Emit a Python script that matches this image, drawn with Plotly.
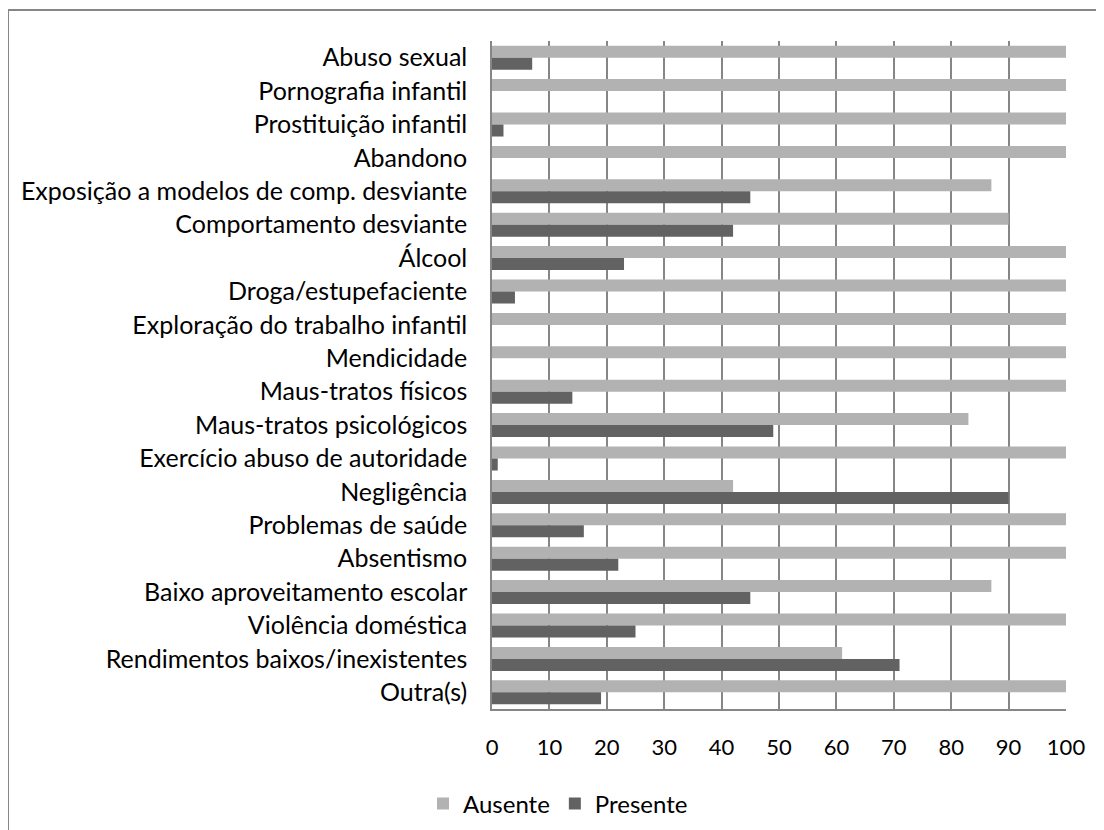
import plotly.graph_objects as go

categories = [
    "Abuso sexual", "Pornografia infantil", "Prostituição infantil", "Abandono",
    "Exposição a modelos de comp. desviante", "Comportamento desviante", "Álcool",
    "Droga/estupefaciente", "Exploração do trabalho infantil", "Mendicidade",
    "Maus-tratos físicos", "Maus-tratos psicológicos", "Exercício abuso de autoridade",
    "Negligência", "Problemas de saúde", "Absentismo", "Baixo aproveitamento escolar",
    "Violência doméstica", "Rendimentos baixos/inexistentes", "Outra(s)",
]
ausente = [100, 100, 100, 100, 87, 90, 100, 100, 100, 100, 100, 83, 100, 42, 100, 100, 87, 100, 61, 100]
presente = [7, 0, 2, 0, 45, 42, 23, 4, 0, 0, 14, 49, 1, 90, 16, 22, 45, 25, 71, 19]
x_ticks = [0, 10, 20, 30, 40, 50, 60, 70, 80, 90, 100]

FONT = "Lato"
OFF = 8  # page body margin
W, H = 1104 - OFF, 830 - OFF
# target page coordinates of the plot area
L, R, T, B = 492 - OFF, 1066 - OFF, 41 - OFF, 709 - OFF

fig = go.Figure()
fig.add_trace(go.Bar(y=categories, x=ausente, name="Ausente", orientation="h",
                     marker=dict(color="#b2b2b2", line=dict(width=0))))
fig.add_trace(go.Bar(y=categories, x=presente, name="Presente", orientation="h",
                     marker=dict(color="#626262", line=dict(width=0))))

pw, ph = R - L, B - T
def px(x):  # page x -> paper
    return (x - OFF - L) / pw
def py(y):  # page y -> paper
    return (B - (y - OFF)) / ph

fig.update_layout(
    width=W, height=H,
    margin=dict(l=L, r=W - R, t=T, b=H - B, autoexpand=False),
    paper_bgcolor="white", plot_bgcolor="white",
    barmode="group", bargap=0.28, bargroupgap=0,
    font=dict(family=FONT, size=25, color="#000000"),
    showlegend=True,
    legend=dict(orientation="h", x=px(558), xanchor="center", y=py(804), yanchor="middle",
                font=dict(family=FONT, size=24), traceorder="normal", itemwidth=30),
    xaxis=dict(range=[0, 100], tickvals=x_ticks, ticktext=[str(v) for v in x_ticks],
               tickfont=dict(family=FONT, size=22), automargin=False,
               showgrid=True, gridcolor="#868686", gridwidth=1.5,
               showline=True, linecolor="#868686", linewidth=1.5,
               zeroline=False, ticks="", ticklabelstandoff=18, fixedrange=True),
    yaxis=dict(autorange="reversed", showgrid=False, showline=True, automargin=False,
               linecolor="#868686", linewidth=1.5, ticks="", ticklabelstandoff=18,
               tickfont=dict(family=FONT, size=25), fixedrange=True),
    shapes=[dict(type="rect", xref="paper", yref="paper",
                 x0=px(8), x1=px(1130), y0=py(860), y1=py(10),
                 line=dict(color="#868686", width=2), fillcolor="rgba(0,0,0,0)")],
)

fig.write_html("out.html")
